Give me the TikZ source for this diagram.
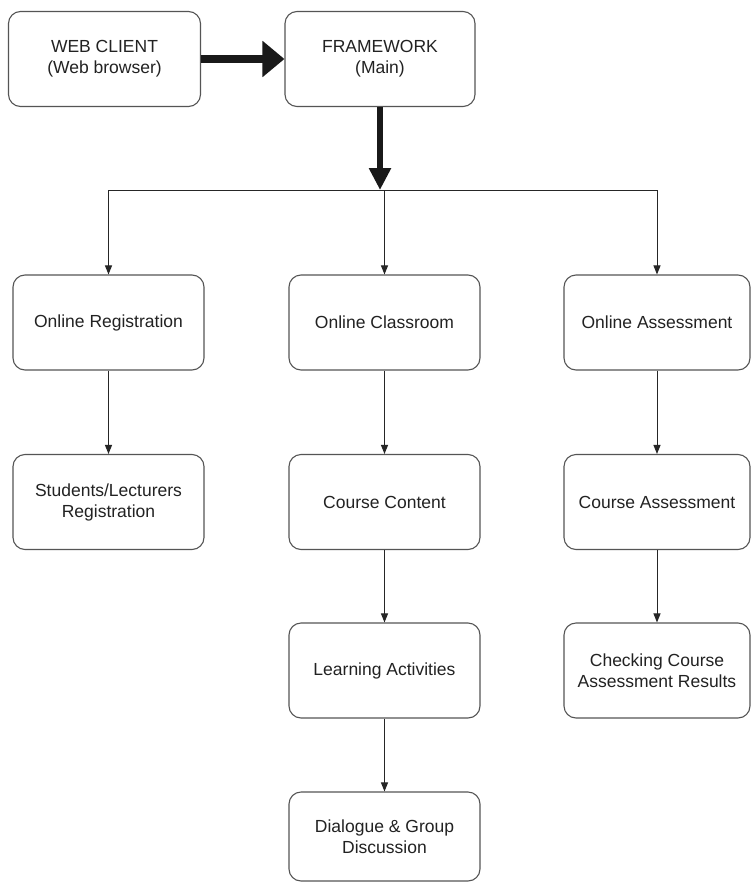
\documentclass[tikz,border=0pt]{standalone}
\usepackage{fontspec}
\setmainfont{Liberation Sans}
\usetikzlibrary{arrows.meta}
\definecolor{edgegray}{HTML}{555555}
\definecolor{txt}{HTML}{222222}
\begin{document}
\begin{tikzpicture}[x=1pt,y=-1pt,
  box/.style={draw=edgegray, line width=1.1pt, rounded corners=12pt, fill=white,
    minimum width=191pt, minimum height=95pt, inner sep=0pt, align=center,
    text=txt, font=\fontsize{17.5}{21}\selectfont},
  thin/.style={draw=black!85, line width=1pt, -{Triangle[length=9pt,width=7pt]}},
  thickh/.style={draw=black!90, line width=8pt, -{Triangle[length=22pt,width=35pt]}},
  thickv/.style={draw=black!90, line width=6pt, -{Triangle[length=22pt,width=21pt]}},
  plain/.style={draw=black!85, line width=1pt}]
\useasboundingbox (0,0) rectangle (751,883);
\fill[white] (0,0) rectangle (751,883);

\node[box, minimum width=192pt] (web) at (104.5,59) {WEB CLIENT\\(Web browser)};
\node[box, minimum width=190pt] (fw) at (380,59) {FRAMEWORK\\(Main)};

\node[box] (reg) at (108.5,322.5) {Online Registration};
\node[box] (cls) at (384.5,322.5) {Online Classroom};
\node[box, minimum width=186pt] (asm) at (657,322.5) {Online Assessment};

\node[box] (stu) at (108.5,502) {Students/Lecturers\\Registration};
\node[box] (cc) at (384.5,502) {Course Content};
\node[box, minimum width=186pt] (ca) at (657,502) {Course Assessment};

\node[box] (la) at (384.5,670.5) {Learning Activities};
\node[box, minimum width=186pt] (chk) at (657,670.5) {Checking Course\\Assessment Results};

\node[box, minimum height=89pt] (dlg) at (384.5,836.5) {Dialogue \& Group\\Discussion};

\coordinate (j) at (380,190);

\draw[thickh] (web.east) -- (fw.west);
\draw[plain] (reg.north |- j) -- (asm.north |- j);
\draw[thickv] (fw.south) -- (j);

\draw[thin] (reg.north |- j) -- (reg.north);
\draw[thin] (cls.north |- j) -- (cls.north);
\draw[thin] (asm.north |- j) -- (asm.north);

\draw[thin] (reg) -- (stu);
\draw[thin] (cls) -- (cc);
\draw[thin] (cc) -- (la);
\draw[thin] (la) -- (dlg);
\draw[thin] (asm) -- (ca);
\draw[thin] (ca) -- (chk);
\end{tikzpicture}
\end{document}
